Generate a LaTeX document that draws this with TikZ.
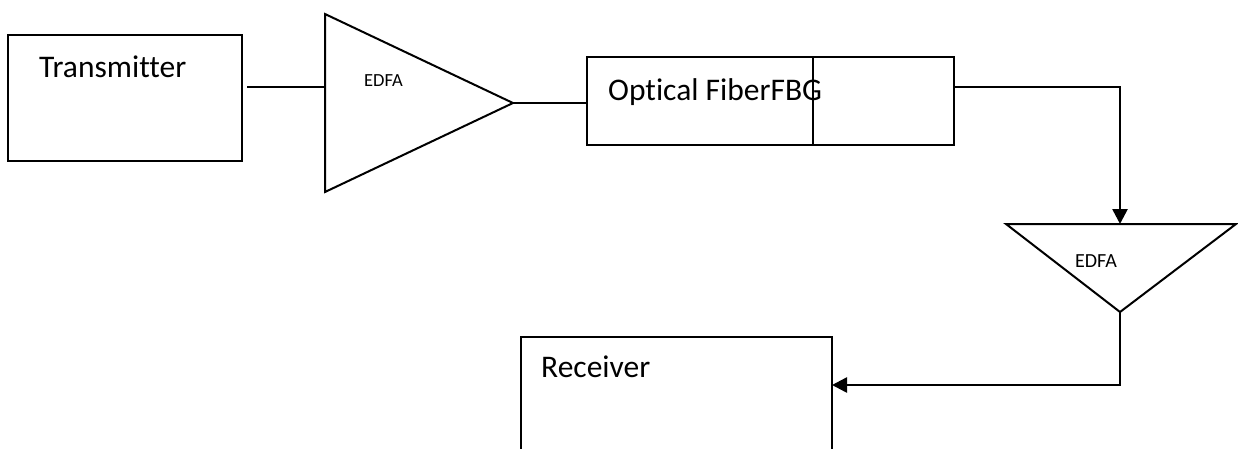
\documentclass[tikz,border=0pt]{standalone}
\usepackage{fontspec}
\setmainfont{Carlito}[Ligatures={NoCommon,NoContextual}]
\usetikzlibrary{arrows.meta,calc}

\begin{document}
\begin{tikzpicture}[x=1pt,y=-1pt,
  blockbox/.style={draw=black,line width=2pt,inner sep=0pt,outer sep=0pt,anchor=north west},
  amp/.style={draw=black,line width=2pt,line join=miter},
  link/.style={draw=black,line width=2pt},
  feed/.style={draw=black,line width=2.6pt,-{Triangle[length=15pt,width=15pt]}},
  biglabel/.style={font=\fontsize{31.5}{38}\selectfont,inner sep=0pt,anchor=base west},
  amplabel/.style={font=\fontsize{18.5}{22}\selectfont,inner sep=0pt}
]
\useasboundingbox (0,0) rectangle (1238,448);
\clip (0,0) rectangle (1238,448);

% transmitter
\node[blockbox,minimum width=234pt,minimum height=126pt] (tx) at (8,35) {};
\node[biglabel] (txl) at (39,77) {Transmitter};

% first amplifier (pointing right)
\coordinate (a1t) at (325,14);
\coordinate (a1b) at (325,192);
\coordinate (a1o) at (513,103);
\draw[amp] (a1t) -- (a1o) -- (a1b) -- cycle;
\node[amplabel] (a1l) at (383.5,81) {EDFA};

% transmitter to amplifier
\coordinate (txo) at (247,87);
\draw[link] (txo) -- (txo -| a1t);

% optical fiber with grating section
\node[blockbox,minimum width=367pt,minimum height=88pt] (fb) at (587,57) {};
\coordinate (fbg) at (813,57);
\draw[link,line width=1.7pt] (fbg) -- (fbg |- fb.south);
\node[biglabel] (fbl) at (608,100) {Optical FiberFBG};

\draw[link] (a1o) -- (a1o -| fb.west);

% second amplifier (pointing down)
\coordinate (a2l) at (1006,224);
\coordinate (a2r) at (1236,224);
\coordinate (a2o) at (1120,312);
\coordinate (a2i) at (1120,224);
\draw[amp] (a2l) -- (a2r) -- (a2o) -- cycle;
\node[amplabel,font=\fontsize{20}{24}\selectfont] (a2lbl) at (1096,261) {EDFA};

% fiber to second amplifier
\coordinate (fbo) at (954,87);
\draw[feed] (fbo) -- (fbo -| a2i) -- (a2i);

% receiver
\node[blockbox,minimum width=311pt,minimum height=140pt] (rx) at (521,337) {};
\node[biglabel] (rxl) at (541,377) {Receiver};

% second amplifier to receiver
\coordinate (rxi) at (832,385);
\draw[feed] (a2o) -- (a2o |- rxi) -- (rxi);
\end{tikzpicture}
\end{document}
